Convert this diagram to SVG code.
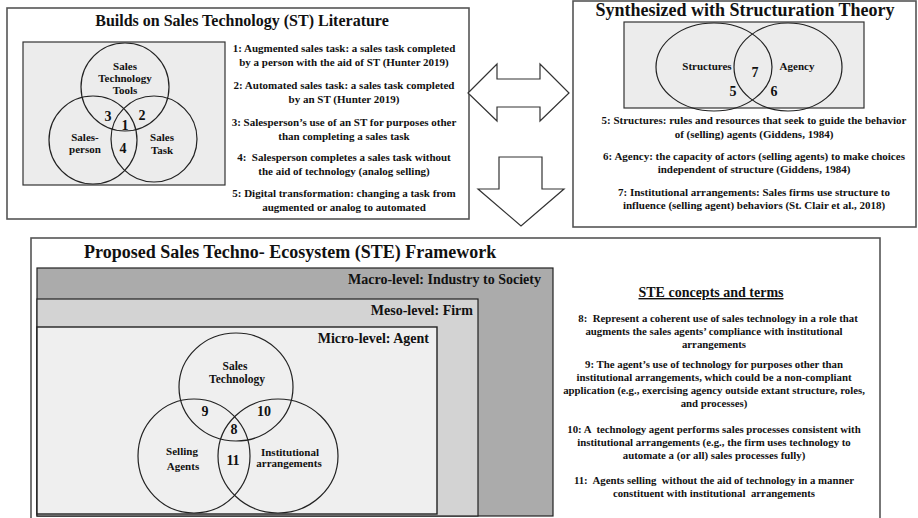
<svg xmlns="http://www.w3.org/2000/svg" width="918" height="518" viewBox="0 0 918 518">
<style>
text{font-family:"Liberation Serif","Times New Roman",serif;font-weight:bold;fill:#111}
.c{text-anchor:middle}
.e{text-anchor:end}
.pre{white-space:pre}
.panel{fill:#fff;stroke:#555;stroke-width:1.6}
.gray{fill:#ececec;stroke:#333;stroke-width:1.2}
.v{fill:none;stroke:#222;stroke-width:1.2}
.t16{font-size:16px}.t18{font-size:18px}.t14{font-size:14px}
.b11{font-size:11px}.b115{font-size:11.5px}.b108{font-size:10.8px}
.n{font-size:14px}
.arrow{fill:#fff;stroke:#333;stroke-width:1.2}
</style>

<g id="st-literature">
<rect class="panel" x="7" y="8" width="462" height="211"/>
<text class="t16 c" x="242" y="26">Builds on Sales Technology (ST) Literature</text>
<rect class="gray" x="23" y="42" width="202" height="143"/>
<circle class="v" cx="125" cy="87" r="44"/>
<circle class="v" cx="93" cy="140" r="44"/>
<circle class="v" cx="154" cy="139" r="43"/>
<text class="b11 c" x="125" y="70">Sales</text>
<text class="b11 c" x="125" y="82">Technology</text>
<text class="b11 c" x="125" y="94">Tools</text>
<text class="n c" x="108" y="121">3</text>
<text class="n c" x="142" y="120">2</text>
<text class="n c" x="125" y="130">1</text>
<text class="n c" x="123" y="153">4</text>
<text class="b11 c" x="85" y="141">Sales-</text>
<text class="b11 c" x="85" y="153">person</text>
<text class="b11 c" x="162" y="141">Sales</text>
<text class="b11 c" x="162" y="154">Task</text>
<text class="b11 c" x="344" y="52">1: Augmented sales task: a sales task completed</text>
<text class="b11 c" x="344" y="66">by a person with the aid of ST (Hunter 2019)</text>
<text class="b11 c" x="344" y="89">2: Automated sales task: a sales task completed</text>
<text class="b11 c" x="344" y="103">by an ST (Hunter 2019)</text>
<text class="b11 c" x="344" y="126">3: Salesperson’s use of an ST for purposes other</text>
<text class="b11 c" x="344" y="140">than completing a sales task</text>
<text class="b11 c pre" x="344" y="161">4:  Salesperson completes a sales task without</text>
<text class="b11 c" x="344" y="175">the aid of technology (analog selling)</text>
<text class="b11 c" x="344" y="197">5: Digital transformation: changing a task from</text>
<text class="b11 c" x="344" y="211">augmented or analog to automated</text>
</g>

<g id="structuration-theory">
<rect class="panel" x="573" y="1" width="343" height="226"/>
<text class="t18 c" x="745" y="16">Synthesized with Structuration Theory</text>
<rect class="gray" x="624" y="22" width="240" height="86"/>
<ellipse class="v" cx="714" cy="67" rx="58" ry="44"/>
<ellipse class="v" cx="788" cy="67" rx="54" ry="44"/>
<text class="b11 c" x="707" y="70">Structures</text>
<text class="n c" x="755" y="77">7</text>
<text class="b11 c" x="797" y="70">Agency</text>
<text class="n c" x="733" y="96">5</text>
<text class="n c" x="774" y="96">6</text>
<text class="b11 c" x="754" y="124">5: Structures: rules and resources that seek to guide the behavior</text>
<text class="b11 c" x="754" y="138">of (selling) agents (Giddens, 1984)</text>
<text class="b11 c" x="754" y="160">6: Agency: the capacity of actors (selling agents) to make choices</text>
<text class="b11 c" x="754" y="173">independent of structure (Giddens, 1984)</text>
<text class="b11 c" x="754" y="196">7: Institutional arrangements: Sales firms use structure to</text>
<text class="b11 c" x="754" y="209">influence (selling agent) behaviors (St. Clair et al., 2018)</text>
</g>

<g id="connectors">
<polygon class="arrow" points="468,93 497,64 497,79 540,79 540,64 569,93 540,121 540,107 497,107 497,121"/>
<polygon class="arrow" points="499,157 542,157 542,189 564,189 521,226 478,189 499,189"/>
</g>

<g id="ste-framework">
<rect class="panel" x="31" y="238" width="849" height="284"/>
<text class="t18" x="84" y="258">Proposed Sales Techno- Ecosystem (STE) Framework</text>
<rect x="37" y="268" width="516" height="248" fill="#ababab" stroke="#222" stroke-width="1.2"/>
<text class="t14 e" x="541" y="284">Macro-level: Industry to Society</text>
<rect x="37" y="299" width="441" height="217" fill="#d3d3d3" stroke="#222" stroke-width="1.2"/>
<text class="t14 e" x="473" y="315">Meso-level: Firm</text>
<rect x="37" y="327" width="400" height="187" fill="#efefef" stroke="#222" stroke-width="1.4"/>
<text class="t14 e" x="429" y="343">Micro-level: Agent</text>
<ellipse class="v" cx="236" cy="387" rx="57" ry="54"/>
<ellipse class="v" cx="194" cy="456" rx="56" ry="57"/>
<ellipse class="v" cx="278" cy="456" rx="60" ry="57"/>
<text class="b115 c" x="235" y="370">Sales</text>
<text class="b115 c" x="237" y="383">Technology</text>
<text class="n c" x="205" y="416">9</text>
<text class="n c" x="264" y="416">10</text>
<text class="n c" x="234" y="434">8</text>
<text class="b11 c" x="182" y="455">Selling</text>
<text class="b11 c" x="183" y="470">Agents</text>
<text class="n c" x="233" y="465">11</text>
<text class="b11 c" x="290" y="456">Institutional</text>
<text class="b11 c" x="289" y="467">arrangements</text>
<text class="t14 c" x="711" y="297" text-decoration="underline">STE concepts and terms</text>
<text class="b108 c pre" x="718" y="322">8:  Represent a coherent use of sales technology in a role that</text>
<text class="b108 c" x="714" y="335">augments the sales agents’ compliance with institutional</text>
<text class="b108 c" x="714" y="348">arrangements</text>
<text class="b108 c" x="714" y="368">9: The agent’s use of technology for purposes other than</text>
<text class="b108 c" x="714" y="381">institutional arrangements, which could be a non-compliant</text>
<text class="b108 c" x="714" y="394">application (e.g., exercising agency outside extant structure, roles,</text>
<text class="b108 c" x="714" y="407">and processes)</text>
<text class="b108 c pre" x="714" y="433">10: A  technology agent performs sales processes consistent with</text>
<text class="b108 c" x="714" y="446">institutional arrangements (e.g., the firm uses technology to</text>
<text class="b108 c" x="714" y="459">automate a (or all) sales processes fully)</text>
<text class="b108 c pre" x="714" y="484">11:  Agents selling  without the aid of technology in a manner</text>
<text class="b108 c pre" x="714" y="497">constituent with institutional  arrangements</text>
</g>
</svg>
